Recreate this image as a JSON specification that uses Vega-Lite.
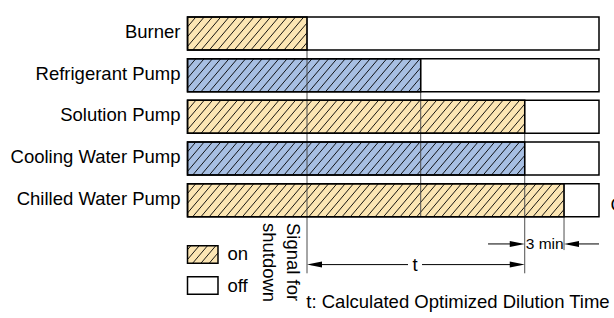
{
  "$schema": "https://vega.github.io/schema/vega-lite/v6.json",
  "width": 614,
  "height": 318,
  "autosize": {"type": "none"},
  "padding": 0,
  "background": "white",
  "config": {"view": {"stroke": null}},
  "data": {"values": [{}]},
  "datasets": {
    "devices": [
      {"device": "Burner", "row": 0, "start": -9.12, "stop": 0, "end": 22.29},
      {"device": "Refrigerant Pump", "row": 1, "start": -9.12, "stop": 8.68, "end": 22.29},
      {"device": "Solution Pump", "row": 2, "start": -9.12, "stop": 16.62, "end": 22.29},
      {"device": "Cooling Water Pump", "row": 3, "start": -9.12, "stop": 16.62, "end": 22.29},
      {"device": "Chilled Water Pump", "row": 4, "start": -9.12, "stop": 19.62, "end": 22.29}
    ],
    "guides": [
      {"t": 0, "top": -0.384, "bottom": 5.756},
      {"t": 8.68, "top": 0.616, "bottom": 4.384},
      {"t": 16.62, "top": 1.616, "bottom": 5.756},
      {"t": 19.62, "top": 3.616, "bottom": 5.198}
    ],
    "shafts": [
      {"from": 13.82, "to": 16.3, "y": 5.051},
      {"from": 19.95, "to": 22.29, "y": 5.051},
      {"from": 0.3, "to": 7.71, "y": 5.547},
      {"from": 8.78, "to": 16.3, "y": 5.547}
    ],
    "heads": [
      {"t": 16.62, "y": 5.051, "dir": "right"},
      {"t": 19.62, "y": 5.051, "dir": "left"},
      {"t": 0, "y": 5.547, "dir": "left"},
      {"t": 16.62, "y": 5.547, "dir": "right"}
    ],
    "legend": [
      {"state": "on", "x1": -9.122, "x2": -6.794, "y1": 5.093, "y2": 5.512, "yc": 5.302, "ly": 5.437},
      {"state": "off", "x1": -9.122, "x2": -6.794, "y1": 5.837, "y2": 6.256, "yc": 6.047, "ly": 6.214}
    ]
  },
  "layer": [
    {
      "data": {"name": "devices"},
      "mark": {"type": "bar", "size": 33, "strokeWidth": 0},
      "encoding": {
        "x": {"field": "start", "type": "quantitative", "scale": {"domain": [-23.435, 23.435], "nice": false, "zero": false}, "axis": null},
        "x2": {"field": "stop"},
        "y": {"field": "row", "type": "quantitative", "scale": {"domain": [-0.686, 6.709], "reverse": true, "nice": false, "zero": false}, "axis": null},
        "color": {"field": "device", "type": "nominal", "legend": null,
          "scale": {"domain": ["Burner", "Refrigerant Pump", "Solution Pump", "Cooling Water Pump", "Chilled Water Pump"],
                    "range": ["#fce6b4", "#a7bfe3", "#fce6b4", "#a7bfe3", "#fce6b4"]}}
      }
    },
    {
      "data": {"name": "devices"},
      "mark": {"type": "point", "size": 4, "filled": false, "color": "black", "strokeWidth": 0.9, "opacity": 1,
        "shape": "M0 -6.72 L8.3 -16.5 M0 3.06 L16.6 -16.5 M0 12.85 L24.9 -16.5 M5.2 16.5 l28 -33 m-19.7 33 l28 -33 m-19.7 33 l28 -33 m-19.7 33 l28 -33 m-19.7 33 l28 -33 m-19.7 33 l28 -33 m-19.7 33 l28 -33 m-19.7 33 l28 -33 m-19.7 33 l28 -33 m-19.7 33 l28 -33 m-19.7 33 l28 -33 m-19.7 33 l28 -33 m-19.7 33 l28 -33 m-19.7 33 l28 -33 m-19.7 33 l28 -33 m-19.7 33 l28 -33 m-19.7 33 l28 -33 m-19.7 33 l28 -33 m-19.7 33 l28 -33 m-19.7 33 l28 -33 m-19.7 33 l28 -33 m-19.7 33 l28 -33 m-19.7 33 l28 -33 m-19.7 33 l28 -33 m-19.7 33 l28 -33 m-19.7 33 l28 -33 m-19.7 33 l28 -33 m-19.7 33 l28 -33 m-19.7 33 l28 -33 m-19.7 33 l28 -33 m-19.7 33 l28 -33 m-19.7 33 l28 -33 m-19.7 33 l28 -33 m-19.7 33 l28 -33 m-19.7 33 l28 -33 m-19.7 33 l28 -33 m-19.7 33 l28 -33 m-19.7 33 l28 -33 m-19.7 33 l28 -33 m-19.7 33 l28 -33 m-19.7 33 l28 -33 m-19.7 33 l28 -33 m-19.7 33 l28 -33 m-19.7 33 l28 -33 m-19.7 33 l28 -33 m-19.7 33 l28 -33"},
      "encoding": {
        "x": {"field": "start", "type": "quantitative"},
        "y": {"field": "row", "type": "quantitative"}
      }
    },
    {
      "data": {"name": "devices"},
      "mark": {"type": "bar", "size": 34, "fill": "white", "strokeWidth": 0},
      "encoding": {
        "x": {"field": "stop", "type": "quantitative"},
        "x2": {"field": "end"},
        "y": {"field": "row", "type": "quantitative"}
      }
    },
    {
      "data": {"name": "guides"},
      "mark": {"type": "rule", "color": "#4d4d4d", "strokeWidth": 1},
      "encoding": {
        "x": {"field": "t", "type": "quantitative"},
        "y": {"field": "top", "type": "quantitative"},
        "y2": {"field": "bottom"}
      }
    },
    {
      "data": {"name": "devices"},
      "mark": {"type": "bar", "size": 33, "fill": "transparent", "stroke": "black", "strokeWidth": 1.5},
      "encoding": {
        "x": {"field": "start", "type": "quantitative"},
        "x2": {"field": "end"},
        "y": {"field": "row", "type": "quantitative"}
      }
    },
    {
      "data": {"name": "devices"},
      "mark": {"type": "bar", "size": 33, "fill": "transparent", "stroke": "black", "strokeWidth": 1.5},
      "encoding": {
        "x": {"field": "start", "type": "quantitative"},
        "x2": {"field": "stop"},
        "y": {"field": "row", "type": "quantitative"}
      }
    },
    {
      "data": {"name": "devices"},
      "mark": {"type": "text", "align": "right", "baseline": "alphabetic", "dx": -7, "dy": 4.6, "fontSize": 18.5, "font": "Liberation Sans", "color": "black"},
      "encoding": {
        "x": {"field": "start", "type": "quantitative"},
        "y": {"field": "row", "type": "quantitative"},
        "text": {"field": "device"}
      }
    },
    {
      "data": {"name": "legend"},
      "mark": {"type": "rect", "stroke": "black", "strokeWidth": 1.5},
      "encoding": {
        "x": {"field": "x1", "type": "quantitative"},
        "x2": {"field": "x2"},
        "y": {"field": "y1", "type": "quantitative"},
        "y2": {"field": "y2"},
        "fill": {"field": "state", "type": "nominal", "legend": null, "scale": {"domain": ["on", "off"], "range": ["#fce6b4", "white"]}}
      }
    },
    {
      "data": {"name": "legend"},
      "transform": [{"filter": "datum.state == 'on'"}],
      "mark": {"type": "point", "size": 4, "filled": false, "color": "black", "strokeWidth": 0.9, "opacity": 1,
        "shape": "M0 -4.67 L3.67 -9 M0 5.11 L11.97 -9 M5 9 L20.27 -9 M13.3 9 L28.57 -9 M21.6 9 L30.5 -1.49"},
      "encoding": {
        "x": {"field": "x1", "type": "quantitative"},
        "y": {"field": "yc", "type": "quantitative"}
      }
    },
    {
      "data": {"name": "legend"},
      "mark": {"type": "text", "align": "left", "baseline": "alphabetic", "dx": 9.5, "fontSize": 18.5, "font": "Liberation Sans", "color": "black"},
      "encoding": {
        "x": {"field": "x2", "type": "quantitative"},
        "y": {"field": "ly", "type": "quantitative"},
        "text": {"field": "state"}
      }
    },
    {
      "data": {"name": "shafts"},
      "mark": {"type": "rule", "color": "black", "strokeWidth": 1},
      "encoding": {
        "x": {"field": "from", "type": "quantitative"},
        "x2": {"field": "to"},
        "y": {"field": "y", "type": "quantitative"}
      }
    },
    {
      "data": {"name": "heads"},
      "mark": {"type": "point", "size": 4, "filled": true, "color": "black", "strokeWidth": 0, "opacity": 1},
      "encoding": {
        "x": {"field": "t", "type": "quantitative"},
        "y": {"field": "y", "type": "quantitative"},
        "shape": {"field": "dir", "type": "nominal", "legend": null,
          "scale": {"domain": ["left", "right"], "range": ["M0 0 L15 -3 L15 3 Z", "M0 0 L-15 -3 L-15 3 Z"]}}
      }
    },
    {
      "mark": {"type": "text", "text": ["Signal for", "shutdown"], "angle": 90, "align": "left", "baseline": "alphabetic", "lineHeight": 23.5, "fontSize": 18.5, "font": "Liberation Sans", "color": "black"},
      "encoding": {"x": {"datum": -1.542, "type": "quantitative"}, "y": {"datum": 4.547, "type": "quantitative"}}
    },
    {
      "mark": {"type": "text", "text": "3 min", "align": "left", "baseline": "alphabetic", "fontSize": 15.5, "font": "Liberation Sans", "color": "black"},
      "encoding": {"x": {"datum": 16.7, "type": "quantitative"}, "y": {"datum": 5.167, "type": "quantitative"}}
    },
    {
      "mark": {"type": "text", "text": "t", "align": "center", "baseline": "alphabetic", "fontSize": 18.5, "font": "Liberation Sans", "color": "black"},
      "encoding": {"x": {"datum": 8.244, "type": "quantitative"}, "y": {"datum": 5.709, "type": "quantitative"}}
    },
    {
      "mark": {"type": "text", "text": "t: Calculated Optimized Dilution Time", "align": "left", "baseline": "alphabetic", "fontSize": 18.5, "font": "Liberation Sans", "color": "black"},
      "encoding": {"x": {"datum": -0.05, "type": "quantitative"}, "y": {"datum": 6.6, "type": "quantitative"}}
    },
    {
      "mark": {"type": "text", "text": "C", "align": "left", "baseline": "alphabetic", "fontSize": 18.5, "font": "Liberation Sans", "color": "black"},
      "encoding": {"x": {"datum": 23.17, "type": "quantitative"}, "y": {"datum": 4.267, "type": "quantitative"}}
    }
  ]
}
